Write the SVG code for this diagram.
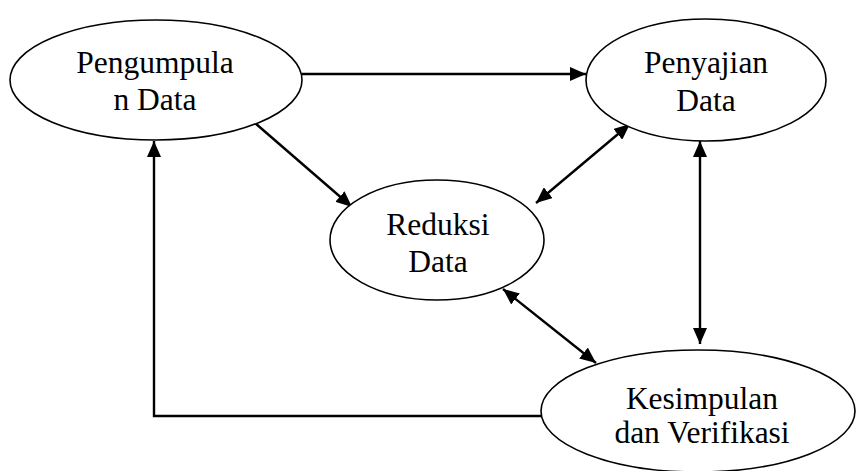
<svg xmlns="http://www.w3.org/2000/svg" width="856" height="471" viewBox="0 0 856 471">
<style>
.node ellipse{fill:#fff;stroke:#000;stroke-width:1.6}
.node text{font-family:"Liberation Serif","Times New Roman",serif;font-size:31.5px;fill:#000;text-anchor:middle}
.edge{fill:none;stroke:#000;stroke-width:2.4}
</style>
<defs>
<marker id="ah" viewBox="0 0 16 14" refX="16" refY="7" markerWidth="16" markerHeight="14" markerUnits="userSpaceOnUse" orient="auto-start-reverse">
<path d="M0,0 L16,7 L0,14 Z" fill="#000"/>
</marker>
</defs>
<g id="connectors">
<path class="edge" d="M302,74 L586,74" marker-end="url(#ah)"/>
<path class="edge" d="M255,123 L352,207" marker-end="url(#ah)"/>
<path class="edge" d="M536,203 L630,124" marker-start="url(#ah)" marker-end="url(#ah)"/>
<path class="edge" d="M700,141 L700,344" marker-start="url(#ah)" marker-end="url(#ah)"/>
<path class="edge" d="M503,289 L596,363" marker-start="url(#ah)" marker-end="url(#ah)"/>
<path class="edge" d="M541,416 L154,416 L154,141" marker-end="url(#ah)"/>
</g>
<g id="pengumpulan" class="node">
<ellipse cx="156" cy="80" rx="146" ry="60"/>
<text x="155" y="73">Pengumpula</text>
<text x="155" y="110">n Data</text>
</g>
<g id="penyajian" class="node">
<ellipse cx="706" cy="80" rx="120" ry="61"/>
<text x="706" y="73">Penyajian</text>
<text x="706" y="111">Data</text>
</g>
<g id="reduksi" class="node">
<ellipse cx="437" cy="240" rx="107" ry="60"/>
<text x="438" y="235">Reduksi</text>
<text x="438" y="272">Data</text>
</g>
<g id="kesimpulan" class="node">
<ellipse cx="698" cy="411" rx="157" ry="61"/>
<text x="702" y="409">Kesimpulan</text>
<text x="702" y="443">dan Verifikasi</text>
</g>
</svg>
